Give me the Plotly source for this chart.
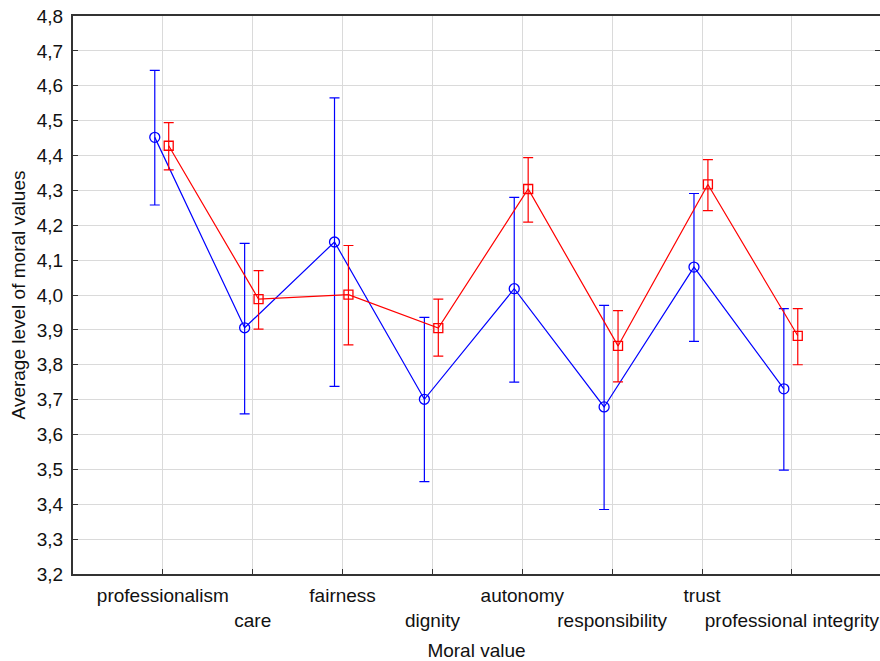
import plotly.graph_objects as go

categories = ["professionalism", "care", "fairness", "dignity", "autonomy",
              "responsibility", "trust", "professional integrity"]
blue_mean = [4.452, 3.906, 4.152, 3.701, 4.018, 3.679, 4.080, 3.731]
blue_upper = [4.644, 4.148, 4.565, 3.936, 4.280, 3.970, 4.291, 3.961]
blue_lower = [4.258, 3.659, 3.738, 3.465, 3.750, 3.385, 3.867, 3.498]
red_mean = [4.428, 3.988, 4.001, 3.905, 4.304, 3.854, 4.317, 3.883]
red_upper = [4.494, 4.070, 4.142, 3.988, 4.394, 3.955, 4.388, 3.961]
red_lower = [4.359, 3.902, 3.857, 3.825, 4.209, 3.751, 4.242, 3.800]
y_ticks = [3.2, 3.3, 3.4, 3.5, 3.6, 3.7, 3.8, 3.9, 4.0, 4.1, 4.2, 4.3, 4.4, 4.5, 4.6, 4.7, 4.8]

pos = list(range(1, len(categories) + 1))
xb = [p - 0.09 for p in pos]
xr = [p + 0.065 for p in pos]

fig = go.Figure()
fig.add_trace(go.Scatter(
    x=xb, y=blue_mean, mode="lines+markers",
    line=dict(color="#0000ff", width=1.2),
    marker=dict(symbol="circle-open", size=10, color="#0000ff", line=dict(width=1.3)),
    error_y=dict(type="data", symmetric=False,
                 array=[u - m for u, m in zip(blue_upper, blue_mean)],
                 arrayminus=[m - l for m, l in zip(blue_mean, blue_lower)],
                 color="#0000ff", thickness=1.2, width=5),
    showlegend=False))
fig.add_trace(go.Scatter(
    x=xr, y=red_mean, mode="lines+markers",
    line=dict(color="#ff0000", width=1.2),
    marker=dict(symbol="square-open", size=9, color="#ff0000", line=dict(width=1.3)),
    error_y=dict(type="data", symmetric=False,
                 array=[u - m for u, m in zip(red_upper, red_mean)],
                 arrayminus=[m - l for m, l in zip(red_mean, red_lower)],
                 color="#ff0000", thickness=1.2, width=5),
    showlegend=False))

ticktext = [c if i % 2 == 0 else "<br>" + c for i, c in enumerate(categories)]

fig.update_layout(
    width=880, height=661,
    margin=dict(l=73, r=0, t=16, b=87, autoexpand=False),
    paper_bgcolor="white", plot_bgcolor="white",
    font=dict(family="Liberation Sans, Arial, sans-serif", size=19, color="#111111"),
    xaxis=dict(
        range=[0, 8.98], tickvals=pos, ticktext=ticktext, tickangle=0,
        showgrid=True, gridcolor="#dadada", gridwidth=1,
        showline=True, linecolor="#333333", linewidth=2, mirror=True,
        ticks="inside", ticklen=5, tickcolor="#333333", ticklabelstandoff=3,
        title=dict(text="Moral value", standoff=18, font=dict(size=19)),
        zeroline=False, automargin=False),
    yaxis=dict(
        range=[3.2, 4.8], tickvals=y_ticks,
        ticktext=[f"{v:.1f}".replace(".", ",") for v in y_ticks],
        showgrid=True, gridcolor="#dadada", gridwidth=1,
        showline=True, linecolor="#333333", linewidth=2, mirror="ticks",
        ticks="inside", ticklen=5, tickcolor="#333333", ticklabelstandoff=4,
        title=dict(text="Average level of moral values", standoff=6, font=dict(size=19)),
        zeroline=False, automargin=False),
)

fig.write_html("out.html", config={"displayModeBar": False},
               post_script="document.body.style.margin='0';document.body.style.padding='0';")
